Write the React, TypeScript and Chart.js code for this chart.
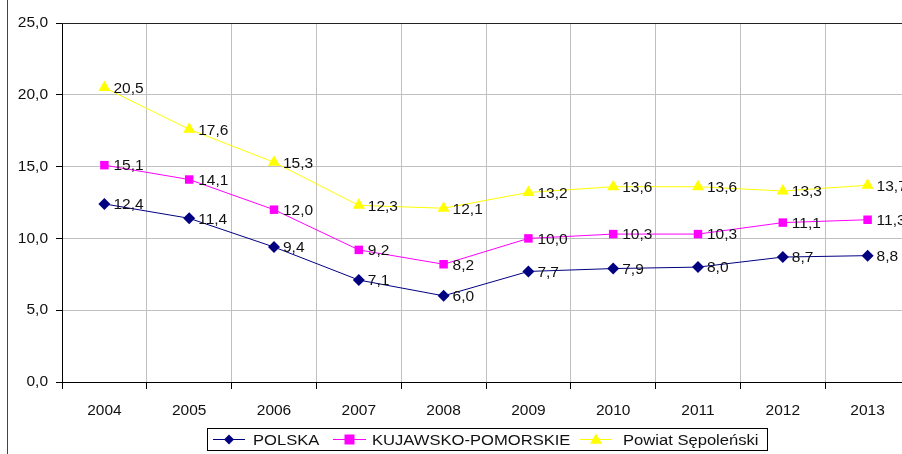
import React, { useEffect, useRef } from "react";
import { Chart, registerables } from "chart.js";

Chart.register(...registerables);

const years = ["2004", "2005", "2006", "2007", "2008", "2009", "2010", "2011", "2012", "2013"];
const polska = [12.4, 11.4, 9.4, 7.1, 6.0, 7.7, 7.9, 8.0, 8.7, 8.8];
const kujawsko = [15.1, 14.1, 12.0, 9.2, 8.2, 10.0, 10.3, 10.3, 11.1, 11.3];
const powiat = [20.5, 17.6, 15.3, 12.3, 12.1, 13.2, 13.6, 13.6, 13.3, 13.7];
const seriesNames = ["POLSKA", "KUJAWSKO-POMORSKIE", "Powiat Sępoleński"];

const FONT = "Arial, 'Liberation Sans', sans-serif";
const FS = 15.5;
const fmt = (v: number) => v.toFixed(1).replace(".", ",");

const labelPlugin = {
  id: "valueLabels",
  afterDatasetsDraw(chart: any) {
    const ctx = chart.ctx;
    ctx.save();
    ctx.font = `${FS}px ${FONT}`;
    ctx.fillStyle = "#111";
    ctx.textAlign = "left";
    ctx.textBaseline = "middle";
    chart.data.datasets.forEach((ds: any, i: number) => {
      const meta = chart.getDatasetMeta(i);
      meta.data.forEach((pt: any, j: number) => {
        ctx.fillText(fmt(ds.data[j]), pt.x + 9, pt.y + 1);
      });
    });
    ctx.restore();
  },
};

function drawMarker(ctx: CanvasRenderingContext2D, style: string, x: number, y: number, r: number) {
  ctx.beginPath();
  if (style === "rectRot") {
    ctx.moveTo(x, y - r);
    ctx.lineTo(x + r, y);
    ctx.lineTo(x, y + r);
    ctx.lineTo(x - r, y);
  } else if (style === "rect") {
    ctx.rect(x - r, y - r, 2 * r, 2 * r);
  } else {
    ctx.moveTo(x, y - r);
    ctx.lineTo(x + r, y + r * 0.7);
    ctx.lineTo(x - r, y + r * 0.7);
  }
  ctx.closePath();
  ctx.fill();
}

const framePlugin = {
  id: "frameAndLegend",
  afterDraw(chart: any) {
    const ctx = chart.ctx;
    ctx.save();
    ctx.strokeStyle = "#444";
    ctx.lineWidth = 1;
    ctx.beginPath();
    ctx.moveTo(7.5, 0);
    ctx.lineTo(7.5, 454);
    ctx.stroke();
    const a = chart.chartArea;
    ctx.strokeStyle = "#222";
    ctx.beginPath();
    ctx.moveTo(a.left, Math.round(a.top) + 0.5);
    ctx.lineTo(a.right, Math.round(a.top) + 0.5);
    ctx.stroke();
    const bx = 207.5, by = 428.5, bw = 560, bh = 22;
    ctx.strokeStyle = "#000";
    ctx.strokeRect(bx, by, bw, bh);
    const cy = by + bh / 2;
    const items = [
      { x0: 213, x1: 245, color: "#000080", style: "rectRot", r: 5, tx: 253 },
      { x0: 333, x1: 366, color: "#FF00FF", style: "rect", r: 5, tx: 372 },
      { x0: 580, x1: 612, color: "#FFFF00", style: "triangle", r: 6, tx: 623 },
    ];
    ctx.font = `${FS}px ${FONT}`;
    ctx.textBaseline = "middle";
    ctx.textAlign = "left";
    items.forEach((it, i) => {
      ctx.strokeStyle = it.color;
      ctx.lineWidth = 1;
      ctx.beginPath();
      ctx.moveTo(it.x0, cy);
      ctx.lineTo(it.x1, cy);
      ctx.stroke();
      ctx.fillStyle = it.color;
      drawMarker(ctx, it.style, (it.x0 + it.x1) / 2, cy, it.r);
      ctx.fillStyle = "#111";
      ctx.save();
      ctx.translate(it.tx, cy + 1);
      ctx.scale(1.07, 1);
      ctx.fillText(seriesNames[i], 0, 0);
      ctx.restore();
    });
    ctx.restore();
  },
};

export default function App() {
  const ref = useRef<HTMLCanvasElement | null>(null);
  useEffect(() => {
    document.body.style.margin = "0";
    const canvas = ref.current!;
    const chart = new Chart(canvas, {
      type: "line",
      data: {
        labels: years,
        datasets: [
          {
            label: seriesNames[0],
            data: polska,
            borderColor: "#000080",
            backgroundColor: "#000080",
            borderWidth: 1,
            pointStyle: "rectRot",
            pointRadius: 6,
            pointBorderWidth: 0,
          },
          {
            label: seriesNames[1],
            data: kujawsko,
            borderColor: "#FF00FF",
            backgroundColor: "#FF00FF",
            borderWidth: 1,
            pointStyle: "rect",
            pointRadius: 6,
            pointBorderWidth: 0,
          },
          {
            label: seriesNames[2],
            data: powiat,
            borderColor: "#FFFF00",
            backgroundColor: "#FFFF00",
            borderWidth: 1,
            pointStyle: "triangle",
            pointRadius: 7,
            pointBorderWidth: 0,
          },
        ],
      },
      options: {
        responsive: false,
        animation: false,
        layout: { padding: { left: 0, top: 23, right: 0, bottom: 32 } },
        plugins: { legend: { display: false }, tooltip: { enabled: false } },
        scales: {
          x: {
            type: "category",
            offset: true,
            grid: {
              offset: true,
              color: "#c0c0c0",
              tickColor: "#000",
              tickLength: 7,
              lineWidth: 1,
            },
            border: { color: "#000", width: 1 },
            ticks: {
              color: "#111",
              font: { family: FONT, size: FS },
              padding: 12,
              maxRotation: 0,
              autoSkip: false,
            },
            afterFit(scale: any) {
              scale.height = 40;
            },
          },
          y: {
            min: 0,
            max: 25,
            ticks: {
              stepSize: 5,
              color: "#111",
              font: { family: FONT, size: FS },
              padding: 8,
              callback: (v: any) => fmt(Number(v)),
            },
            grid: {
              color: "#c0c0c0",
              tickColor: "#000",
              tickLength: 6,
              lineWidth: 1,
            },
            border: { color: "#000", width: 1 },
            afterFit(scale: any) {
              scale.width = 62;
            },
          },
        },
      },
      plugins: [labelPlugin, framePlugin],
    });
    return () => chart.destroy();
  }, []);
  return (
    <div style={{ position: "relative", width: 902, height: 454, overflow: "hidden", background: "#fff" }}>
      <canvas ref={ref} width={917} height={454} style={{ display: "block", width: 917, height: 454 }} />
    </div>
  );
}
